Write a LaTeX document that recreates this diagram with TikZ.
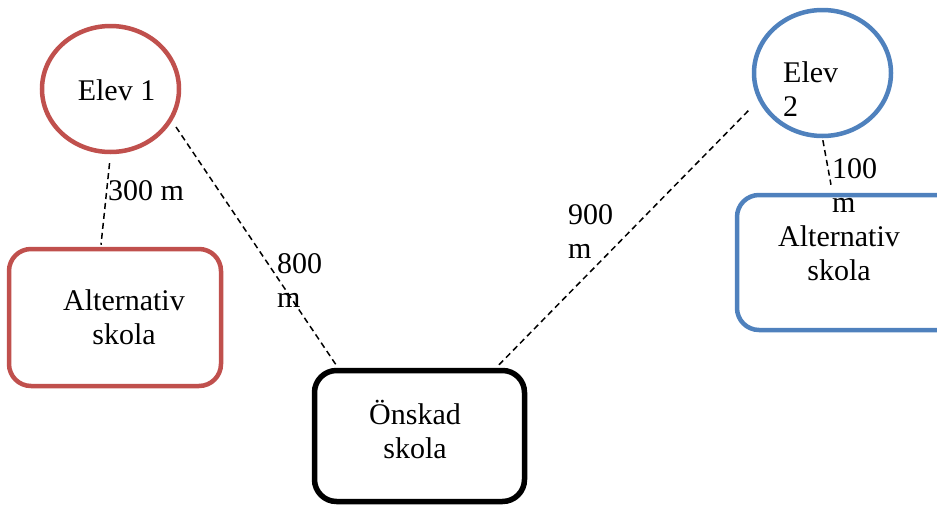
\documentclass[tikz,border=0pt]{standalone}
\usepackage{fontspec}
\setmainfont{Liberation Serif}
\usetikzlibrary{shapes.geometric,calc}
\definecolor{redc}{HTML}{C0504D}
\definecolor{bluec}{HTML}{4F81BD}
\begin{document}
\begin{tikzpicture}[x=1pt,y=-1pt,
  every node/.style={font=\fontsize{30}{34}\selectfont},
  circ/.style={ellipse,draw,line width=4.5pt,minimum width=137pt,minimum height=126pt,inner sep=0pt},
  box/.style={rectangle,draw,rounded corners=22pt,inner sep=0pt},
  txt/.style={inner sep=0pt,align=center},
  lbl/.style={inner sep=0pt,align=left,anchor=base west},
  link/.style={draw=black,line width=1.5pt,dash pattern=on 6pt off 4pt}]
\useasboundingbox (0,0) rectangle (937,504);
% shapes
\node[circ,draw=redc] (e1) at (110.5,89) {};
\node[circ,draw=bluec] (e2) at (822.5,73) {};
\node[box,draw=redc,line width=4.5pt,minimum width=212pt,minimum height=137pt] (a1) at (115,317.5) {};
\node[box,draw=bluec,line width=4.5pt,minimum width=230pt,minimum height=135pt] (a2) at (852,262.5) {};
\node[box,draw=black,line width=5.5pt,minimum width=210pt,minimum height=131pt] (s) at (419.5,436) {};
% texts
\node[txt,anchor=base] (t1) at (116.5,100) {Elev 1};
\node[txt,anchor=base west,align=left] (t2) at (783,116) {Elev\\2};
\node[txt,anchor=base] (ta1) at (124,344) {Alternativ\\skola};
\node[txt,anchor=base] (ta2) at (839,280) {Alternativ\\skola};
\node[txt,anchor=base] (ts) at (415,458) {Önskad\\skola};
% connectors
\draw[link,shorten <=9pt] (e1.south) -- ($(a1.north)+(-14,-2)$);
\draw[link] ($(e1.center)+(65.5,38)$) -- ($(s.north)+(-83.5,-3)$);
\draw[link] ($(s.north)+(79.5,-3)$) -- ($(e2.center)+(-73.5,37)$);
\draw[link,shorten <=2pt] (e2.south) -- ($(a2.north)+(-21,-8)$);
% distance labels
\node[lbl] (l300) at (108,200) {300 m};
\node[lbl] (l800) at (277,307) {800\\m};
\node[lbl] (l900) at (568,258) {900\\m};
\node[lbl] (l100) at (832,212) {100\\m};
\end{tikzpicture}
\end{document}
